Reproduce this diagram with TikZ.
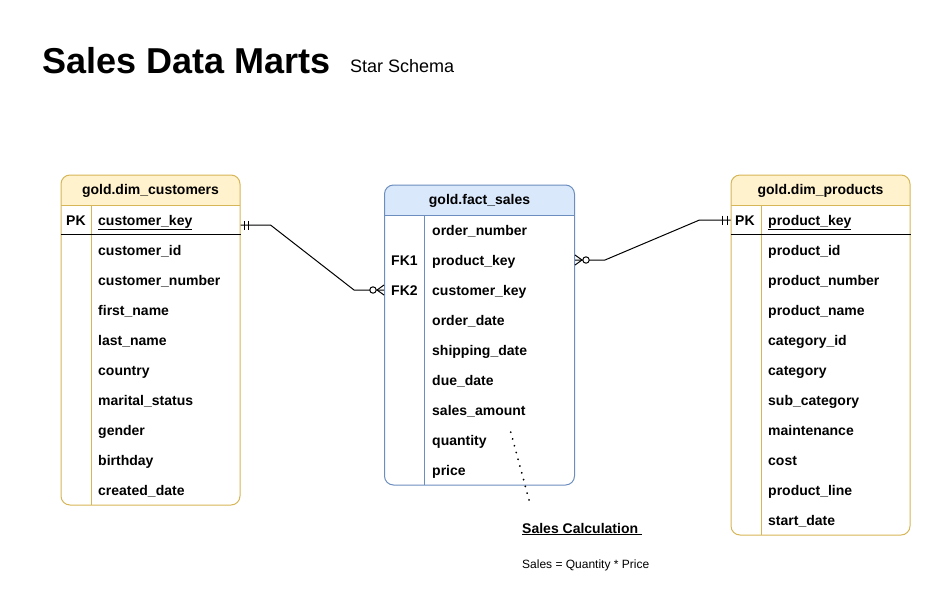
\documentclass[tikz,border=0pt]{standalone}
\usepackage{fontspec}
\setmainfont{Liberation Sans}
\usetikzlibrary{calc,decorations.markings}

\definecolor{dimfill}{HTML}{FFF2CC}
\definecolor{dimline}{HTML}{D6B656}
\definecolor{factfill}{HTML}{DAE8FC}
\definecolor{factline}{HTML}{6C8EBF}

\begin{document}
\begin{tikzpicture}[x=1pt, y=-1pt,
        tbl/.style n args={3}{draw=#2, line width=1pt, rounded corners=9pt,
                     inner sep=0pt, path picture={
            \fill[#1, sharp corners] (path picture bounding box.north west)
                rectangle ([yshift=-30pt]path picture bounding box.north east);
            \draw[#2, line width=1pt] ([yshift=-30pt]path picture bounding box.north west)
                -- ([yshift=-30pt]path picture bounding box.north east);
            \draw[#2, line width=1pt] ([xshift=#3, yshift=-30pt]path picture bounding box.north west)
                -- ([xshift=#3]path picture bounding box.south west);}},
        head/.style={inner sep=0pt, text height=10pt, text depth=0pt,
                     font=\fontsize{14}{16}\selectfont\bfseries},
        fld/.style={head, anchor=west},
        keyrule/.style={line width=1.2pt},
        rel/.style={line width=1pt, postaction={decorate, decoration={markings,
            mark=at position 3.5pt with {\draw[line width=1pt] (0pt,-4.5pt) -- (0pt,4.5pt);},
            mark=at position 8pt with {\draw[line width=1pt] (0pt,-4.5pt) -- (0pt,4.5pt);},
            mark=at position 1 with {\draw[line width=1pt] (-7pt,0pt) -- (0pt,5pt) (-7pt,0pt) -- (0pt,-5pt);
                \draw[line width=1pt, fill=white] (-11pt,0pt) circle (3.2pt);}}}},
        dotline/.style={line width=2pt, line cap=round, dash pattern=on 0.01pt off 7pt}
      ]
      \useasboundingbox (0,0) rectangle (941,608);

      % title
      \node[anchor=base west, inner sep=0pt, font=\fontsize{36}{42}\selectfont\bfseries] (title) at (42,73) {Sales Data Marts};
      \node[anchor=base west, inner sep=0pt, font=\fontsize{18}{22}\selectfont] (sub) at (350,72) {Star Schema};

      % dim_customers
      \node[tbl={dimfill}{dimline}{30pt}, minimum width=179pt, minimum height=330pt] (cust) at (150.5,340) {};
      \node[head] (cust-h) at ([yshift=-15pt]cust.north) {gold.dim\_customers};
      \draw[keyrule] ([yshift=-60pt]cust.north west) -- ([yshift=-60pt]cust.north east);
      \node[fld] (cust-pk) at (66,220) {PK};
      \node[fld] (ck) at (98,220) {\underline{customer\_key}};
      \foreach \f [count=\i] in {customer\_id, customer\_number, first\_name, last\_name,
          country, marital\_status, gender, birthday, created\_date}
        \node[fld] (c\i) at (98,220+30*\i) {\f};

      % fact_sales
      \node[tbl={factfill}{factline}{40pt}, minimum width=190pt, minimum height=300pt] (fact) at (479.5,335) {};
      \node[head] (fact-h) at ([yshift=-15pt]fact.north) {gold.fact\_sales};
      \foreach \f [count=\i] in {order\_number, product\_key, customer\_key, order\_date,
          shipping\_date, due\_date, sales\_amount, quantity, price}
        \node[fld] (f\i) at (432,200+30*\i) {\f};
      \node[fld] (fk1) at (391,260) {FK1};
      \node[fld] (fk2) at (391,290) {FK2};

      % dim_products
      \node[tbl={dimfill}{dimline}{30pt}, minimum width=179pt, minimum height=360pt] (prod) at (820.5,355) {};
      \node[head] (prod-h) at ([yshift=-15pt]prod.north) {gold.dim\_products};
      \draw[keyrule] ([yshift=-60pt]prod.north west) -- ([yshift=-60pt]prod.north east);
      \node[fld] (prod-pk) at (735,220) {PK};
      \node[fld] (pk) at (768,220) {\underline{product\_key}};
      \foreach \f [count=\i] in {product\_id, product\_number, product\_name, category\_id,
          category, sub\_category, maintenance, cost, product\_line, start\_date}
        \node[fld] (p\i) at (768,220+30*\i) {\f};

      % relations
      \draw[rel] ($(ck -| cust.east)+(0,5)$) -- ++(30,0)
          -- ($(f3 -| fact.west)+(-30,0)$) -- (f3 -| fact.west);
      \draw[rel] (pk -| prod.west) -- ++(-31,0)
          -- ($(f2 -| fact.east)+(30,0)$) -- (f2 -| fact.east);

      % note
      \node[anchor=base west, inner sep=0pt, font=\fontsize{14}{16}\selectfont\bfseries] (calc) at (522,533) {\underline{Sales Calculation\ }};
      \node[anchor=base west, inner sep=0pt, font=\fontsize{12}{14}\selectfont] (calc-f) at (522,568) {Sales = Quantity * Price};
      \draw[dotline] ([xshift=-15pt,yshift=-17pt]f7.south east) -- ([xshift=8pt,yshift=19pt]calc.north west);
    \end{tikzpicture}
\end{document}
